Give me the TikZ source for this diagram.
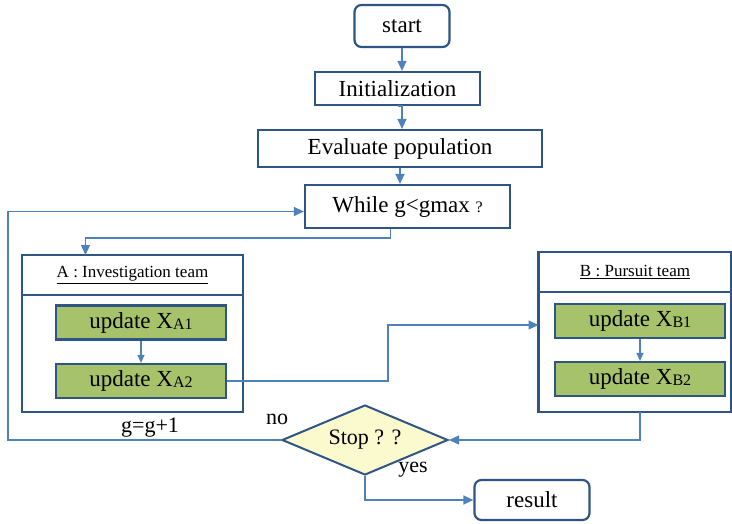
\documentclass[tikz,border=0pt]{standalone}
\usepackage{fontspec}
\setmainfont{Liberation Serif}
\usetikzlibrary{positioning, arrows.meta, shapes.geometric}
\definecolor{linkblue}{RGB}{79,129,189}
\definecolor{boxblue}{RGB}{47,85,132}
\definecolor{updgreen}{RGB}{166,194,106}
\definecolor{stopyellow}{RGB}{251,249,206}
\newcommand{\updX}[1]{update X{\fontsize{16}{16}\selectfont\raisebox{-1pt}{#1}}}

\begin{document}
\begin{tikzpicture}[x=1pt, y=-1pt, >={Triangle[length=10pt,width=9pt]},
    flow/.style={->, linkblue, line width=1.3pt},
    box/.style={draw=boxblue, line width=2.2pt, fill=white, inner sep=0pt,
                font=\fontsize{23}{25}\selectfont},
    term/.style={box, rounded corners=7pt},
    upd/.style={box, fill=updgreen, minimum width=170pt, minimum height=34pt},
    team/.style={draw=boxblue, line width=2.2pt, inner sep=0pt, outer sep=0pt,
                 minimum width=221pt, font=\fontsize{17}{19}\selectfont},
    lbl/.style={font=\fontsize{22}{24}\selectfont}]
    \useasboundingbox (0,0) rectangle (732,523);

    \node[term, minimum width=95pt, minimum height=42pt] (start) at (402,26) {start};
    \node[box, minimum width=165pt, minimum height=33pt] (init) at (397.5,88.5) {Initialization};
    \node[box, minimum width=284pt, minimum height=37pt] (eval) at (400,148.5) {Evaluate population};
    \node[box, minimum width=205pt, minimum height=43pt] (loop) at (407.5,206.5) {While g<gmax {\fontsize{16}{16}\selectfont ?}};

    \node[team, minimum height=40pt] (headA) at (132.5,275) {\underline{A : Investigation team}};
    \node[team, minimum height=117pt, below=0pt of headA] (bodyA) {};
    \node[upd] (xa1) at (141,322.5) {\updX{A1}};
    \node[upd] (xa2) at (141,381) {\updX{A2}};

    \node[team, minimum width=193pt, minimum height=40pt] (headB) at (635,272) {\underline{B : Pursuit team}};
    \node[team, minimum width=193pt, minimum height=120pt, below=0pt of headB] (bodyB) {};
    \node[upd] (xb1) at (640,321) {\updX{B1}};
    \node[upd] (xb2) at (640,379) {\updX{B2}};

    \node[diamond, draw=boxblue, line width=2pt, fill=stopyellow, aspect=2.4,
          minimum width=166pt, minimum height=70pt, inner sep=0pt,
          font=\fontsize{22}{24}\selectfont] (stop) at (365,440) {Stop ? ?};
    \node[term, minimum width=115pt, minimum height=40pt] (result) at (532,500) {result};

    \node[lbl] (no) at (277,419) {no};
    \node[lbl] (inc) at (150,428) {g=g+1};
    \node[lbl] (yes) at (413,470) {yes};

    \coordinate (back) at (8,440);
    \coordinate (split) at (388,381);

    \draw[flow] (start.south) -- (start.south |- init.north);
    \draw[flow] (init.south) -- (init.south -| start.south) -- (start.south |- eval.north);
    \draw[flow] (eval.south) -- (loop.north -| eval.south);
    \draw[flow] ([xshift=-17pt]loop.south) -- ++(0,9) -| ([xshift=-47pt]headA.north);
    \draw[flow, >={Triangle[length=8pt,width=7pt]}] (xa1) -- (xa2);
    \draw[flow] (xa2.east) -- (split) |- ([yshift=27pt]bodyB.west);
    \draw[flow, >={Triangle[length=8pt,width=7pt]}] (xb1) -- (xb2);
    \draw[flow] ([xshift=5pt]bodyB.south) |- (stop.east);
    \draw[flow] (stop.west) -- (back) |- ([yshift=-5pt]loop.west);
    \draw[flow] (stop.south) |- (result.west);
\end{tikzpicture}
\end{document}
